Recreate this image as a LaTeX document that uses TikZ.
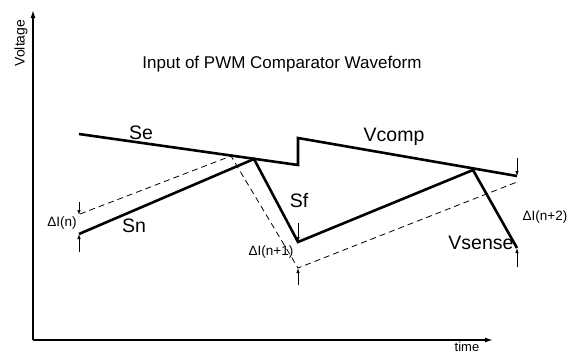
\documentclass[tikz,border=0pt]{standalone}
\usepackage{fontspec}
\setmainfont{Liberation Sans}
\usetikzlibrary{arrows.meta}
\begin{document}
\begin{tikzpicture}[x=1pt,y=-1pt,
        wave/.style={line width=2.6pt,line join=miter},
        guide/.style={line width=0.8pt,dash pattern=on 6pt off 4pt},
        delta/.style={line width=0.8pt,-{Latex[length=5pt,width=3.5pt]}},
        lbl/.style={font=\fontsize{19.5}{22}\selectfont,inner sep=0pt},
        small/.style={font=\fontsize{13.5}{16}\selectfont,inner sep=0pt}]
        \useasboundingbox (0,0) rectangle (573,354);
        % axes
        \coordinate (o) at (33,340);
        \coordinate (vtop) at (33,10);
        \coordinate (tend) at (493,340);
        \draw[line width=1.4pt,-{Latex[length=8pt,width=5pt]}] (o) -- (vtop);
        \draw[line width=1.4pt,-{Latex[length=8pt,width=5pt]}] (o) -- (tend);
        \node[font=\fontsize{14}{16}\selectfont,rotate=90,inner sep=0pt] (voltage) at (21,43) {Voltage};
        \node[font=\fontsize{13}{16}\selectfont,anchor=south,inner sep=0pt] (time) at (467,352) {time};
        \node[font=\fontsize{17}{20}\selectfont,inner sep=0pt] (title) at (282,64) {Input of PWM Comparator Waveform};
        % Vcomp
        \coordinate (c0) at (79,134);
        \coordinate (c1) at (298,165);
        \coordinate (c2) at (298,138);
        \coordinate (c3) at (517,176);
        \draw[wave] (c0) -- (c1) -- (c2) -- (c3);
        % Vsense
        \coordinate (s0) at (79,234);
        \coordinate (s1) at (254,159);
        \coordinate (s2) at (298,242);
        \coordinate (s3) at (473,170);
        \coordinate (s4) at (517,248);
        \draw[wave] (s0) -- (s1) -- (s2) -- (s3) -- (s4);
        % shifted slopes
        \coordinate (d0) at (80,214);
        \coordinate (d1) at (231,156);
        \coordinate (d2) at (298,268);
        \coordinate (d3) at (517,182);
        \draw[guide] (d0) -- (d1) -- (d2) -- (d3);
        % delta I markers
        \draw[delta] (79,202) -- (79,215);
        \draw[delta] (79,252) -- (s0);
        \draw[delta] (298,223) -- (s2);
        \draw[delta] (298,285) -- (d2);
        \draw[delta] (517,158) -- (c3);
        \draw[delta] (517,267) -- (s4);
        \node[small] (dn) at (62,223) {ΔI(n)};
        \node[small] (dn1) at (271,252) {ΔI(n+1)};
        \node[small] (dn2) at (545,217) {ΔI(n+2)};
        \node[lbl] (se) at (141,133) {Se};
        \node[lbl] (sn) at (134,226) {Sn};
        \node[lbl] (sf) at (299,201) {Sf};
        \node[lbl] (vcomp) at (394,137) {Vcomp};
        \node[lbl] (vsense) at (481,243) {Vsense};
    \end{tikzpicture}
\end{document}
